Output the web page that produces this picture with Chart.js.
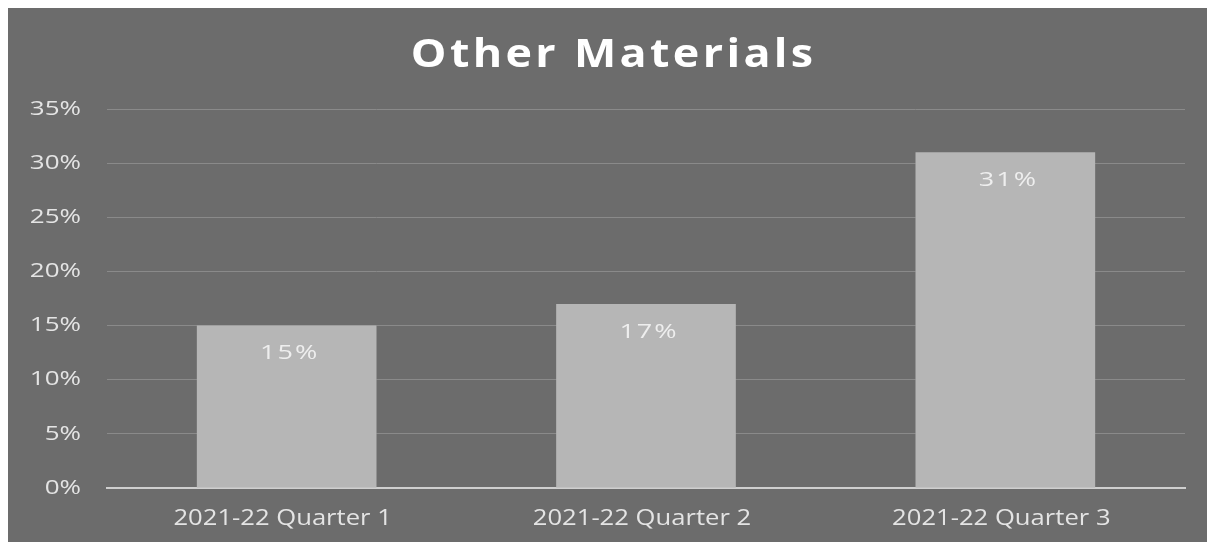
<!DOCTYPE html>
<html>
<head>
<meta charset="utf-8">
<title>Other Materials</title>
<script src="https://cdn.jsdelivr.net/npm/chart.js@4"></script>
<style>
  html, body { margin: 0; padding: 0; background: #ffffff; }
  #wrap { position: absolute; left: 8px; top: 8px; width: 1199px; height: 534px; background: #6c6c6c; }
  canvas { display: block; }
</style>
</head>
<body>
<div id="wrap"><canvas id="chart" width="1199" height="534"></canvas></div>
<script>
// Share of other materials per quarter (percent)
const categories = ['2021-22 Quarter 1', '2021-22 Quarter 2', '2021-22 Quarter 3'];
const shareValues = [15, 17, 31];
const yTicks = [0, 5, 10, 15, 20, 25, 30, 35];
const chartTitle = 'Other Materials';

const FONT = '"Open Sans", "DejaVu Sans", sans-serif';

// Wide lettering: glyphs stretched horizontally, with optional extra tracking
function wideText(ctx, text, x, y, font, color, align, baseline, stretch, spacing) {
  ctx.save();
  ctx.font = font;
  ctx.fillStyle = color;
  ctx.textAlign = align;
  ctx.textBaseline = baseline;
  ctx.letterSpacing = spacing + 'px';
  ctx.translate(x, y);
  ctx.scale(stretch, 1);
  const shift = align === 'right' ? spacing : align === 'center' ? spacing / 2 : 0;
  ctx.fillText(text, shift, 0);
  ctx.restore();
}

// Title, axis tick labels and bar value labels
const chartText = {
  id: 'chartText',
  afterDraw(chart) {
    const ctx = chart.ctx;
    const xs = chart.scales.x;
    const ys = chart.scales.y;

    wideText(ctx, chartTitle, 604, 59, 'bold 40px ' + FONT, '#ffffff', 'center', 'alphabetic', 1.12, 3);

    yTicks.forEach(v => {
      wideText(ctx, v + '%', 73, ys.getPixelForValue(v), '20px ' + FONT, '#e4e4e4', 'right', 'middle', 1.3, 0);
    });

    categories.forEach((c, i) => {
      wideText(ctx, c, xs.getPixelForValue(i) - 4, xs.bottom - 23, '21px ' + FONT, '#e4e4e4', 'center', 'middle', 1.22, 0);
    });

    const meta = chart.getDatasetMeta(0);
    meta.data.forEach((bar, i) => {
      wideText(ctx, shareValues[i] + '%', bar.x + 2, bar.y + 28, '20px ' + FONT, '#eeeeee', 'center', 'middle', 1.35, 1.5);
    });
  }
};

new Chart(document.getElementById('chart'), {
  type: 'bar',
  data: {
    labels: categories,
    datasets: [{
      data: shareValues,
      backgroundColor: '#b6b6b6',
      borderWidth: 0,
      barPercentage: 0.5,
      categoryPercentage: 1.0
    }]
  },
  options: {
    responsive: false,
    animation: false,
    layout: { padding: { left: 0, right: 22, top: 101, bottom: 0 } },
    plugins: {
      legend: { display: false },
      tooltip: { enabled: false },
      title: { display: false }
    },
    scales: {
      x: {
        grid: { display: false, drawTicks: false },
        border: { display: true, color: '#cfcfcf', width: 2 },
        ticks: { display: false },
        afterFit(scale) { scale.height = 54; }
      },
      y: {
        min: 0,
        max: 35,
        afterBuildTicks(scale) { scale.ticks = yTicks.map(v => ({ value: v })); },
        grid: { color: '#8a8a8a', lineWidth: 1, drawTicks: false },
        border: { display: false },
        ticks: { display: false },
        afterFit(scale) { scale.width = 99; }
      }
    }
  },
  plugins: [chartText]
});
</script>
</body>
</html>
